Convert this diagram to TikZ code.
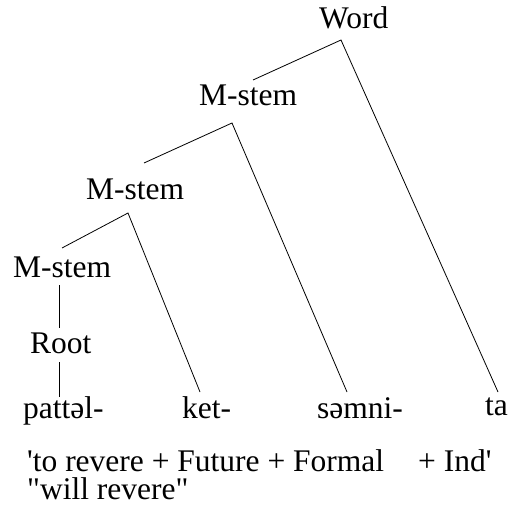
\documentclass[tikz,border=0pt]{standalone}
\usepackage{fontspec}
\setmainfont{Liberation Serif}[Ligatures=TeXOff]
\begin{document}
\begin{tikzpicture}[x=1pt,y=-1pt,
  lbl/.style={anchor=base west,inner sep=0pt,font=\fontsize{31.5}{36}\selectfont},
  edge/.style={line width=0.8pt}]
\useasboundingbox (0,0) rectangle (510,518);
\node[lbl] (word) at (319,29) {Word};
\node[lbl] (ms1) at (199,106) {M-stem};
\node[lbl] (ms2) at (86,200) {M-stem};
\node[lbl] (ms3) at (13,277) {M-stem};
\node[lbl] (root) at (30,353) {Root};
\node[lbl] (patt) at (23,418) {pattəl-};
\node[lbl] (ket) at (182,418) {ket-};
\node[lbl] (semni) at (317,418) {səmni-};
\node[lbl] (ta) at (485,415) {ta};
\node[lbl,text depth=1pt] (gloss) at (27,471) {'to revere + Future + Formal};
\node[lbl] (ind) at (418,471) {+ Ind'};
\node[lbl] (trans) at (27,499) {"will revere"};
% named line ends
\coordinate (wtop) at (341,40);
\coordinate (wl) at (253,80);
\coordinate (wr) at (498,392);
\coordinate (m1top) at (232,123);
\coordinate (m1l) at (144,163);
\coordinate (m1r) at (347,392);
\coordinate (m2top) at (128,213);
\coordinate (m2l) at (62,248);
\coordinate (m2r) at (200,392);
\coordinate (m3a) at (59,285);
\coordinate (m3b) at (59,328);
\coordinate (ra) at (59,362);
\coordinate (rb) at (59,397);
\draw[edge] (wl) -- (wtop) -- (wr);
\draw[edge] (m1l) -- (m1top) -- (m1r);
\draw[edge] (m2l) -- (m2top) -- (m2r);
\draw[edge] (m3a) -- (m3b);
\draw[edge] (ra) -- (rb);
\end{tikzpicture}
\end{document}
